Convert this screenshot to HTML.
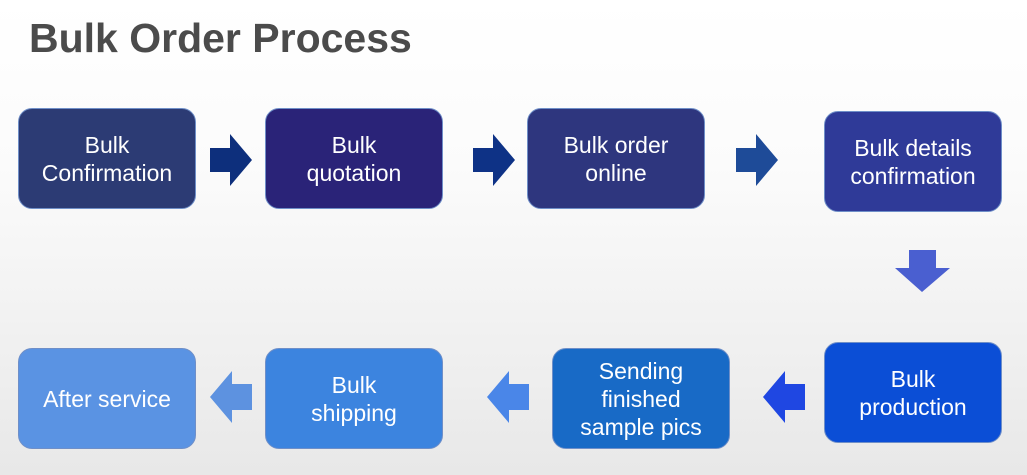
<!DOCTYPE html>
<html><head><meta charset="utf-8"><style>
body{margin:0;width:1027px;height:475px;overflow:hidden;position:relative;font-family:"Liberation Sans",sans-serif;background:linear-gradient(#ffffff 0%,#fbfbfb 35%,#e8e8e8 100%);}
h1{position:absolute;left:29px;top:15px;margin:0;font-size:41px;font-weight:bold;color:#4b4b4b;}
.b{position:absolute;width:178px;height:101px;border-radius:14px;border:1px solid #6f8fc8;color:#fff;font-size:23px;line-height:28px;display:flex;align-items:center;justify-content:center;text-align:center;box-sizing:border-box;}
svg{position:absolute;left:0;top:0}
</style></head><body>
<h1>Bulk Order Process</h1>
<div class="b" style="left:18px;top:108px;background:#2c3b74">Bulk<br>Confirmation</div>
<div class="b" style="left:265px;top:108px;background:#2a2378">Bulk<br>quotation</div>
<div class="b" style="left:527px;top:108px;background:#2e367e">Bulk order<br>online</div>
<div class="b" style="left:824px;top:111px;background:#2f3a98">Bulk details<br>confirmation</div>
<div class="b" style="left:824px;top:342px;background:#0b4ed6">Bulk<br>production</div>
<div class="b" style="left:552px;top:348px;background:#186ac6">Sending<br>finished<br>sample pics</div>
<div class="b" style="left:265px;top:348px;background:#3c84df">Bulk<br>shipping</div>
<div class="b" style="left:18px;top:348px;background:#5a93e3">After service</div>
<svg width="1027" height="475">
<polygon points="210,148 230,148 230,134 252,160 230,186 230,172 210,172" fill="#0d2f7c"/>
<polygon points="473,148 493,148 493,134 515,160 493,186 493,172 473,172" fill="#0e3286"/>
<polygon points="736,148 756,148 756,134 778,160 756,186 756,172 736,172" fill="#1e4b98"/>
<polygon points="909,250 936,250 936,268 950,268 922,292 895,268 909,268" fill="#4a5fd0"/>
<polygon points="805,384 785,384 785,371 763,397 785,423 785,410 805,410" fill="#1f47e2"/>
<polygon points="529,384 509,384 509,371 487,397 509,423 509,410 529,410" fill="#4a86e8"/>
<polygon points="252,384 232,384 232,371 210,397 232,423 232,410 252,410" fill="#5d92e0"/>
</svg>
</body></html>
